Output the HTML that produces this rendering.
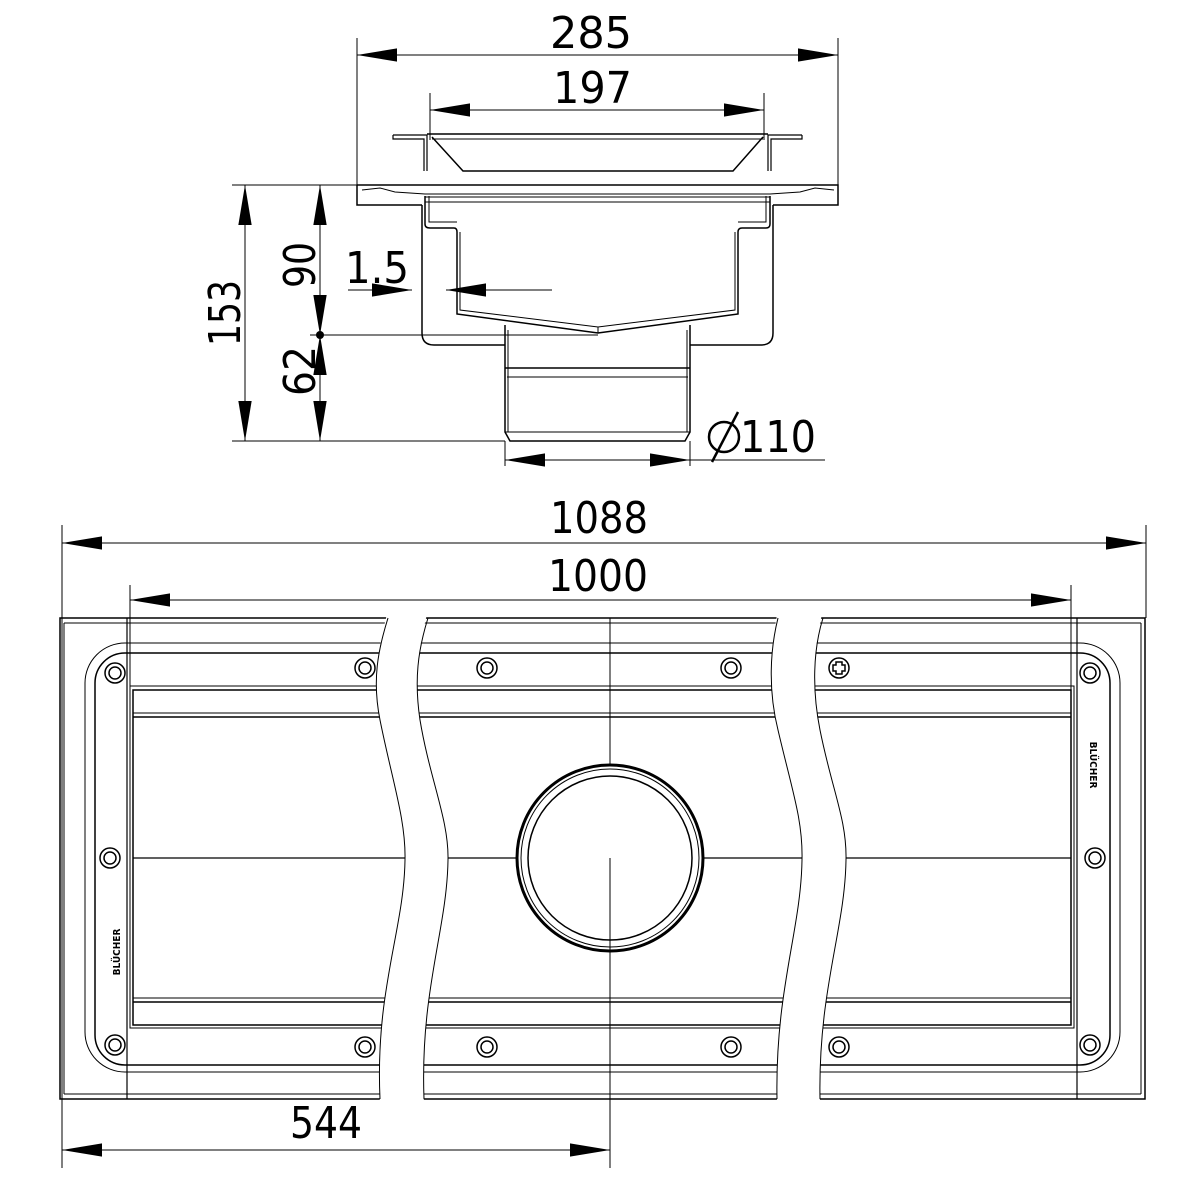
<!DOCTYPE html>
<html><head><meta charset="utf-8"><style>
html,body{margin:0;padding:0;background:#fff}
svg{display:block}
text{font-family:"DejaVu Sans Condensed","Liberation Sans Narrow","Liberation Sans",sans-serif;fill:#000}
</style></head><body>
<svg width="1181" height="1181" viewBox="0 0 1181 1181" xmlns="http://www.w3.org/2000/svg">
<defs>
<marker id="a" viewBox="0 0 12 4" refX="12" refY="2" markerWidth="40" markerHeight="14" markerUnits="userSpaceOnUse" orient="auto-start-reverse"><path d="M0,0L12,2L0,4z" fill="#000"/></marker>
</defs>
<g fill="none" stroke="#000" stroke-width="1">
<line x1="357" y1="38" x2="357" y2="185"/><line x1="838" y1="38" x2="838" y2="185"/>
<line x1="430" y1="93" x2="430" y2="140"/><line x1="764" y1="93" x2="764" y2="140"/>
<line x1="232" y1="185" x2="357" y2="185"/>
<line x1="310" y1="335" x2="598" y2="335"/>
<line x1="232" y1="441" x2="505" y2="441"/>
<line x1="505" y1="441" x2="505" y2="466"/><line x1="690" y1="441" x2="690" y2="466"/>
<line x1="357" y1="55" x2="838" y2="55" marker-start="url(#a)" marker-end="url(#a)"/>
<line x1="430" y1="110" x2="764" y2="110" marker-start="url(#a)" marker-end="url(#a)"/>
<line x1="245" y1="185" x2="245" y2="441" marker-start="url(#a)" marker-end="url(#a)"/>
<line x1="320" y1="185" x2="320" y2="335" marker-start="url(#a)" marker-end="url(#a)"/>
<line x1="320" y1="335" x2="320" y2="441" marker-start="url(#a)" marker-end="url(#a)"/>
<line x1="505" y1="460" x2="690" y2="460" marker-start="url(#a)" marker-end="url(#a)"/>
<line x1="690" y1="460" x2="825" y2="460"/>
<line x1="348" y1="290" x2="412" y2="290" marker-end="url(#a)"/>
<line x1="487" y1="290" x2="446" y2="290" marker-end="url(#a)"/>
<line x1="446" y1="290" x2="552" y2="290"/>
<path d="M393,135 L427,135 L427,171 M393,135 L393,139 L424,139 L424,171" stroke-width="1.2"/>
<path d="M802,135 L768,135 L768,171 M802,135 L802,139 L771,139 L771,171" stroke-width="1.2"/>
<path d="M427,134 L768,134" stroke-width="1.5"/>
<path d="M432,137 L463,171 L733,171 L763,137" stroke-width="1.5"/>
<line x1="432" y1="139" x2="763" y2="139"/>
<path d="M357,185 L838,185 L838,205 L773,205 M357,185 L357,205 L422,205" stroke-width="1.5"/>
<path d="M362,190 L380,188 L395,192 L425,194 L770,194 L800,192 L815,188 L834,190" />
<line x1="425" y1="197" x2="770" y2="197"/>
<line x1="425" y1="202" x2="770" y2="202"/>
<path d="M422,205 L422,333 Q422,345 434,345 L505,345 M690,345 L761,345 Q773,345 773,333 L773,205" stroke-width="1.5"/>
<path d="M425,196 L425,224 Q425,228 430,228 L454,228 Q457,228 457,232 L457,314 L598,333 L738,314 L738,232 Q738,228 742,228 L766,228 Q770,228 770,224 L770,196" stroke-width="1.5"/>
<path d="M429,196 L429,222 L457,222 M766,196 L766,222 L738,222"/>
<path d="M460,232 L460,310 L598,327 L735,310 L735,232"/>
<line x1="598" y1="327" x2="598" y2="333"/>
<path d="M505,325 L505,432 L510,441 L685,441 L690,432 L690,325" stroke-width="1.5"/>
<line x1="505" y1="368" x2="690" y2="368" stroke-width="1.5"/>
<line x1="507" y1="377" x2="688" y2="377"/>
<line x1="505" y1="432" x2="690" y2="432"/>
<line x1="508" y1="330" x2="508" y2="432"/>
<line x1="687" y1="330" x2="687" y2="432"/>
</g>
<circle cx="320" cy="335" r="4" fill="#000"/>
<text x="550" y="48" font-size="44" textLength="82" lengthAdjust="spacingAndGlyphs">285</text>
<text x="553" y="103" font-size="44" textLength="79" lengthAdjust="spacingAndGlyphs">197</text>
<text x="345" y="283" font-size="44" textLength="64" lengthAdjust="spacingAndGlyphs">1.5</text>
<text transform="translate(240,346) rotate(-90)" font-size="44" textLength="66" lengthAdjust="spacingAndGlyphs">153</text>
<text transform="translate(315,288) rotate(-90)" font-size="44" textLength="46" lengthAdjust="spacingAndGlyphs">90</text>
<text transform="translate(315,396) rotate(-90)" font-size="44" textLength="50" lengthAdjust="spacingAndGlyphs">62</text>
<text x="740" y="452" font-size="44" textLength="76" lengthAdjust="spacingAndGlyphs">110</text>
<g fill="none" stroke="#000" stroke-width="2.5"><circle cx="724" cy="437" r="15"/><line x1="712" y1="462" x2="738" y2="412"/></g>

<g fill="none" stroke="#000" stroke-width="1">
<line x1="62" y1="525" x2="62" y2="1168"/><line x1="1146" y1="525" x2="1146" y2="618"/>
<line x1="130" y1="585" x2="130" y2="690"/><line x1="1071" y1="585" x2="1071" y2="690"/>
<line x1="610" y1="618" x2="610" y2="1168"/>
<line x1="62" y1="543" x2="1146" y2="543" marker-start="url(#a)" marker-end="url(#a)"/>
<line x1="130" y1="600" x2="1071" y2="600" marker-start="url(#a)" marker-end="url(#a)"/>
<line x1="62" y1="1150" x2="610" y2="1150" marker-start="url(#a)" marker-end="url(#a)"/>
<rect x="60" y="618" width="1085" height="481" stroke-width="1.5"/>
<line x1="64" y1="623" x2="64" y2="1094"/>
<line x1="1141" y1="623" x2="1141" y2="1094"/>
<line x1="64" y1="623" x2="1141" y2="623"/>
<line x1="64" y1="1094" x2="1141" y2="1094"/>
<line x1="127" y1="618" x2="127" y2="1099" stroke-width="1.2"/>
<line x1="1077" y1="618" x2="1077" y2="1099" stroke-width="1.2"/>
<line x1="127" y1="643" x2="1077" y2="643"/>
<line x1="127" y1="1072" x2="1077" y2="1072"/>
<rect x="85" y="643" width="1035" height="429" rx="40" ry="40"/>
<rect x="95" y="653" width="1015" height="412" rx="30" ry="30" stroke-width="1.5"/>
<rect x="130" y="686" width="944" height="342"/>
<rect x="133" y="690" width="938" height="335" stroke-width="1.5"/>
<line x1="133" y1="713" x2="1071" y2="713"/>
<line x1="133" y1="717" x2="1071" y2="717" stroke-width="1.5"/>
<line x1="133" y1="998" x2="1071" y2="998"/>
<line x1="133" y1="1002" x2="1071" y2="1002" stroke-width="1.5"/>
<line x1="133" y1="858" x2="1071" y2="858" stroke-width="1.2"/>
<g stroke-width="1.5">
<circle cx="115" cy="673" r="10"/><circle cx="115" cy="673" r="6"/>
<circle cx="110" cy="858" r="10"/><circle cx="110" cy="858" r="6"/>
<circle cx="115" cy="1045" r="10"/><circle cx="115" cy="1045" r="6"/>
<circle cx="365" cy="668" r="10"/><circle cx="365" cy="668" r="6"/>
<circle cx="365" cy="1047" r="10"/><circle cx="365" cy="1047" r="6"/>
<circle cx="487" cy="668" r="10"/><circle cx="487" cy="668" r="6"/>
<circle cx="487" cy="1047" r="10"/><circle cx="487" cy="1047" r="6"/>
<circle cx="731" cy="668" r="10"/><circle cx="731" cy="668" r="6"/>
<circle cx="731" cy="1047" r="10"/><circle cx="731" cy="1047" r="6"/>
<circle cx="839" cy="668" r="10"/>
<path d="M836,662h6v3h3v6h-3v3h-6v-3h-3v-6h3z"/>
<circle cx="839" cy="1047" r="10"/><circle cx="839" cy="1047" r="6"/>
<circle cx="1090" cy="673" r="10"/><circle cx="1090" cy="673" r="6"/>
<circle cx="1095" cy="858" r="10"/><circle cx="1095" cy="858" r="6"/>
<circle cx="1090" cy="1045" r="10"/><circle cx="1090" cy="1045" r="6"/>
</g>
<circle cx="610" cy="858" r="93" fill="#fff" stroke-width="3"/>
<circle cx="610" cy="858" r="89"/>
<circle cx="610" cy="858" r="82" stroke-width="1.5"/>
<line x1="610" y1="858" x2="610" y2="950"/>
<line x1="610" y1="750" x2="610" y2="765"/>
<line x1="500" y1="858" x2="517" y2="858"/><line x1="703" y1="858" x2="720" y2="858"/>
</g>
<g fill="#fff">
<path d="M388,610 C378,650 372,680 380,720 C392,780 406,820 405,860 C404,930 375,990 380,1105 L424,1105 C420,990 447,930 448,860 C449,820 430,780 420,720 C414,680 418,650 428,610 Z"/>
<path d="M778,610 C770,650 768,690 778,730 C792,790 803,820 802,860 C801,930 775,990 777,1105 L820,1105 C818,990 845,930 846,860 C847,820 832,790 820,730 C812,690 813,650 823,610 Z"/>
</g>
<g stroke="#000" stroke-width="1" fill="none">
<path d="M388,618 C378,650 372,680 380,720 C392,780 406,820 405,860 C404,930 375,990 380,1099"/>
<path d="M428,618 C418,650 414,680 420,720 C430,780 449,820 448,860 C447,930 420,990 424,1099"/>
<path d="M778,618 C770,650 768,690 778,730 C792,790 803,820 802,860 C801,930 775,990 777,1099"/>
<path d="M823,618 C813,650 812,690 820,730 C832,790 847,820 846,860 C845,930 818,990 820,1099"/>
</g>
<text x="550" y="533" font-size="44" textLength="98" lengthAdjust="spacingAndGlyphs">1088</text>
<text x="548" y="591" font-size="44" textLength="100" lengthAdjust="spacingAndGlyphs">1000</text>
<text x="290" y="1138" font-size="44" textLength="72" lengthAdjust="spacingAndGlyphs">544</text>
<text transform="translate(1090,765) rotate(90)" font-size="10" font-weight="bold" text-anchor="middle">BLÜCHER</text>
<text transform="translate(120,952) rotate(-90)" font-size="10" font-weight="bold" text-anchor="middle">BLÜCHER</text>
</svg>
</body></html>
